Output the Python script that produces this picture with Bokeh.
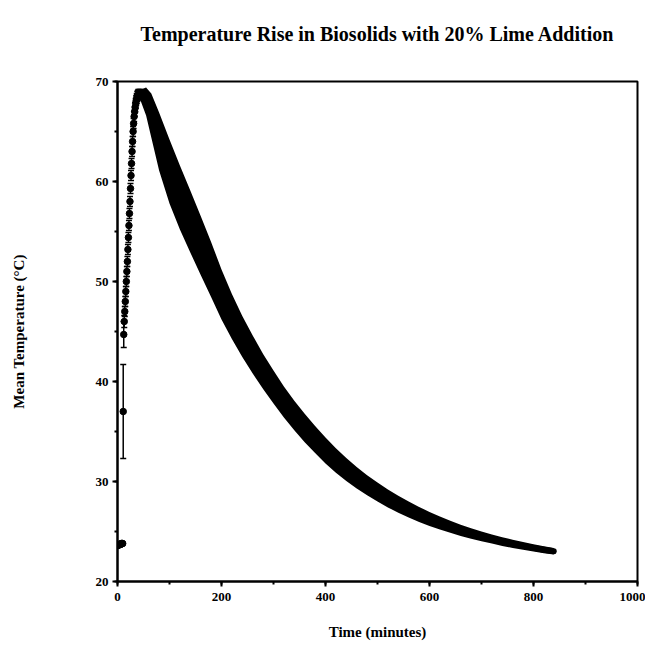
from bokeh.plotting import figure
from bokeh.models import Range1d, SingleIntervalTicker, ColumnDataSource, Whisker, TeeHead, Title
from bokeh.embed import file_html
from bokeh.resources import INLINE

TITLE = "Temperature Rise in Biosolids with 20% Lime Addition"
X_LABEL = "Time (minutes)"
Y_LABEL = "Mean Temperature (°C)"

# Initial flat period (minutes, deg C)
base_time = [0, 1, 2, 3, 4, 5, 6, 7, 8, 9, 10]
base_temp = [23.6, 23.6, 23.7, 23.7, 23.7, 23.7, 23.7, 23.8, 23.8, 23.8, 23.8]

# Rising period: means and SD
rise_time = [11, 12, 13, 14, 15, 16, 17, 18, 19, 20, 21, 22, 23, 24, 25, 26, 27,
             28, 29, 30, 31, 32, 33, 34, 35, 36, 37, 38, 39, 40, 42, 44]
rise_temp = [37.0, 44.7, 46.0, 47.0, 48.0, 49.0, 50.0, 51.0, 52.0, 53.2, 54.4,
             55.6, 56.8, 58.0, 59.3, 60.6, 61.8, 63.0, 64.0, 65.0, 65.8, 66.5,
             67.0, 67.4, 67.8, 68.1, 68.3, 68.5, 68.6, 68.7, 68.7, 68.7]
rise_sd = [4.7, 1.3, 0.6, 0.5, 0.5, 0.5, 0.5, 0.5, 0.5, 0.5, 0.5, 0.5, 0.5, 0.5,
           0.5, 0.5, 0.5, 0.5, 0.5, 0.5, 0.5, 0.5, 0.5, 0.5, 0.5, 0.5, 0.5, 0.5,
           0.5, 0.5, 0.5, 0.5]

# Cooling period: means and SD
cool_time = [45, 55, 65, 80, 100, 120, 140, 160, 180, 200, 220, 240, 260, 280,
             300, 320, 340, 360, 380, 400, 420, 440, 460, 480, 500, 520, 540,
             560, 580, 600, 620, 640, 660, 680, 700, 720, 740, 760, 780, 800,
             820, 839]
cool_temp = [68.6, 68.0, 66.6, 64.0, 61.0, 58.4, 56.0, 53.6, 51.2, 48.7, 46.5,
             44.5, 42.7, 41.0, 39.45, 37.95, 36.6, 35.35, 34.2, 33.1, 32.1, 31.2,
             30.38, 29.63, 28.94, 28.31, 27.73, 27.2, 26.71, 26.26, 25.85, 25.47,
             25.12, 24.8, 24.51, 24.24, 23.99, 23.77, 23.56, 23.36, 23.18, 23.03]
cool_sd = [0.6, 1.4, 2.2, 2.9, 3.2, 3.2, 3.1, 2.95, 2.75, 2.5, 2.25, 2.05, 1.9,
           1.75, 1.65, 1.55, 1.48, 1.42, 1.36, 1.3, 1.22, 1.14, 1.07, 1.0, 0.95,
           0.9, 0.85, 0.8, 0.75, 0.7, 0.65, 0.6, 0.56, 0.52, 0.48, 0.45, 0.43,
           0.41, 0.39, 0.37, 0.35, 0.33]

x_ticks_major = 200
y_ticks_major = 10

SERIF = "Liberation Serif"

p = figure(width=645, height=650, output_backend="svg", toolbar_location=None,
           x_range=Range1d(0, 1000), y_range=Range1d(20, 70),
           min_border_left=117, min_border_right=8, min_border_top=81,
           min_border_bottom=69)
p.frame_width = 520
p.frame_height = 500

# real title, kept away from the frame by a blank spacer
p.title.text = TITLE
p.title.text_font = SERIF
p.title.text_font_size = "20px"
p.title.text_font_style = "bold"
p.title.text_color = "black"
p.title.align = "center"
p.title.offset = -5
p.add_layout(Title(text=" ", text_font_size="14px", standoff=14), "above")

p.xgrid.visible = False
p.ygrid.visible = False
p.outline_line_color = "black"
p.outline_line_width = 2

p.xaxis.ticker = SingleIntervalTicker(interval=x_ticks_major, num_minor_ticks=2)
p.yaxis.ticker = SingleIntervalTicker(interval=y_ticks_major, num_minor_ticks=2)
for ax in (p.xaxis[0], p.yaxis[0]):
    ax.axis_line_width = 2
    ax.axis_line_color = "black"
    ax.major_tick_in = 0
    ax.major_tick_out = 5
    ax.major_tick_line_width = 2
    ax.minor_tick_in = 0
    ax.minor_tick_out = 3
    ax.minor_tick_line_width = 2
    ax.major_label_text_font = SERIF
    ax.major_label_text_font_style = "bold"
    ax.major_label_text_font_size = "13px"
    ax.major_label_text_color = "black"
    ax.axis_label_text_font = SERIF
    ax.axis_label_text_font_style = "bold"
    ax.axis_label_text_font_size = "15px"
    ax.axis_label_text_color = "black"
p.xaxis.axis_label = X_LABEL
p.yaxis.axis_label = Y_LABEL
p.xaxis.major_label_standoff = 6
p.yaxis.major_label_standoff = 4
p.xaxis.axis_label_standoff = 20
p.yaxis.axis_label_standoff = 66

# cooling band (mean +/- SD)
cool_lo = [m - s for m, s in zip(cool_temp, cool_sd)]
cool_hi = [m + s for m, s in zip(cool_temp, cool_sd)]
p.varea(x=cool_time, y1=cool_lo, y2=cool_hi, fill_color="black")
p.line(x=cool_time, y=cool_temp, line_color="black", line_width=6,
       line_cap="round", line_join="round")

# rising points with error bars
rise_lo = [m - s for m, s in zip(rise_temp, rise_sd)]
rise_hi = [m + s for m, s in zip(rise_temp, rise_sd)]
src = ColumnDataSource(dict(t=rise_time, m=rise_temp, lo=rise_lo, hi=rise_hi))
w = Whisker(base="t", lower="lo", upper="hi", source=src, line_color="black",
            line_width=1.5,
            upper_head=TeeHead(size=6, line_color="black", line_width=1.5),
            lower_head=TeeHead(size=6, line_color="black", line_width=1.5))
p.add_layout(w)
p.scatter(x="t", y="m", source=src, size=6.5, color="black")

p.scatter(x=base_time, y=base_temp, size=6.5, color="black")

open("out.html", "w").write(file_html(p, INLINE))
